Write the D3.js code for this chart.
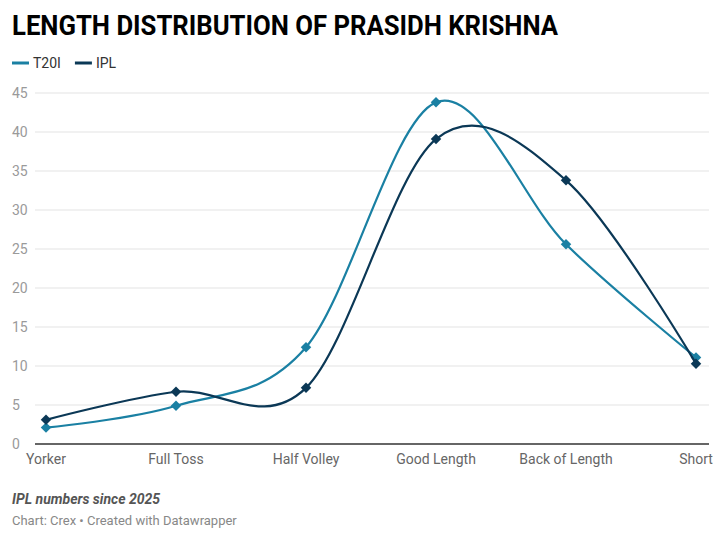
<!DOCTYPE html>
<html>
<head>
<meta charset="utf-8">
<script src="https://cdn.jsdelivr.net/npm/d3@7"></script>
<style>
  body { margin: 0; background: #fff; font-family: Roboto, sans-serif; }
  svg text { font-family: Roboto, sans-serif; }
</style>
</head>
<body>
<div id="chart"></div>
<script>
// data
const lengths = ["Yorker", "Full Toss", "Half Volley", "Good Length", "Back of Length", "Short"];
const t20iValues = [2.1, 4.9, 12.4, 43.8, 25.6, 11.1];
const iplValues = [3.1, 6.7, 7.2, 39.1, 33.8, 10.3];
const yTicks = [0, 5, 10, 15, 20, 25, 30, 35, 40, 45];

const seriesList = [
    { name: "T20I", values: t20iValues, color: "#1a80a3" },
    { name: "IPL", values: iplValues, color: "#0b3856" }
];

const svgWidth = 725, svgHeight = 540;
const margin = { top: 93, right: 16, bottom: 96, left: 35 };
const width = svgWidth - margin.left - margin.right;
const height = svgHeight - margin.top - margin.bottom;

const svg = d3.select("#chart")
    .append("svg")
    .attr("width", svgWidth)
    .attr("height", svgHeight);

// title
svg.append("text")
    .attr("x", 12)
    .attr("y", 35)
    .attr("textLength", 546)
    .attr("lengthAdjust", "spacingAndGlyphs")
    .style("font-size", "27px")
    .style("font-weight", "bold")
    .style("fill", "#000")
    .text("LENGTH DISTRIBUTION OF PRASIDH KRISHNA");

// legend
const legend = svg.append("g").attr("transform", "translate(12,63)");
let lx = 0;
seriesList.forEach(s => {
    legend.append("line")
        .attr("x1", lx).attr("x2", lx + 17)
        .attr("y1", 0).attr("y2", 0)
        .attr("stroke", s.color)
        .attr("stroke-width", 3);
    const t = legend.append("text")
        .attr("x", lx + 21)
        .attr("y", 5)
        .style("font-size", "14px")
        .style("fill", "#333")
        .text(s.name);
    lx += 21 + t.node().getComputedTextLength() + 14;
});

const g = svg.append("g")
    .attr("transform", `translate(${margin.left},${margin.top})`);

const x = d3.scalePoint()
    .domain(lengths)
    .range([11, width - 13]);

const y = d3.scaleLinear()
    .domain([0, 45])
    .range([height, 0]);

// grid lines
g.append("g")
    .selectAll("line")
    .data(yTicks.filter(d => d > 0))
    .enter().append("line")
    .attr("x1", 0)
    .attr("x2", width)
    .attr("y1", d => y(d))
    .attr("y2", d => y(d))
    .attr("stroke", "#e3e3e3")
    .attr("stroke-width", 1);

// y tick labels
g.append("g")
    .selectAll("text")
    .data(yTicks)
    .enter().append("text")
    .attr("x", -23)
    .attr("y", d => y(d) + 5)
    .style("font-size", "14px")
    .style("fill", "#9a9a9a")
    .text(d => d);

// baseline
g.append("line")
    .attr("x1", 0)
    .attr("x2", width)
    .attr("y1", height)
    .attr("y2", height)
    .attr("stroke", "#333")
    .attr("stroke-width", 1.5);

// x axis labels
g.append("g")
    .selectAll("text")
    .data(lengths)
    .enter().append("text")
    .attr("x", d => x(d))
    .attr("y", height + 20)
    .attr("text-anchor", "middle")
    .style("font-size", "14px")
    .style("fill", "#666")
    .text(d => d);

const line = d3.line()
    .x((d, i) => x(lengths[i]))
    .y(d => y(d))
    .curve(d3.curveCardinal.tension(0));

const diamond = d3.symbol().type(d3.symbolDiamond2).size(70);

seriesList.forEach(s => {
    g.append("path")
        .datum(s.values)
        .attr("fill", "none")
        .attr("stroke", s.color)
        .attr("stroke-width", 2.2)
        .attr("d", line);

    g.append("g")
        .selectAll("path")
        .data(s.values)
        .enter().append("path")
        .attr("transform", (d, i) => `translate(${x(lengths[i])},${y(d)})`)
        .attr("d", diamond)
        .attr("fill", s.color);
});

// footer
svg.append("text")
    .attr("x", 12)
    .attr("y", 504)
    .style("font-size", "14px")
    .style("font-weight", "bold")
    .style("font-style", "italic")
    .style("fill", "#555")
    .text("IPL numbers since 2025");

svg.append("text")
    .attr("x", 12)
    .attr("y", 525)
    .style("font-size", "13px")
    .style("fill", "#888")
    .text("Chart: Crex \u2022 Created with Datawrapper");
</script>
</body>
</html>
